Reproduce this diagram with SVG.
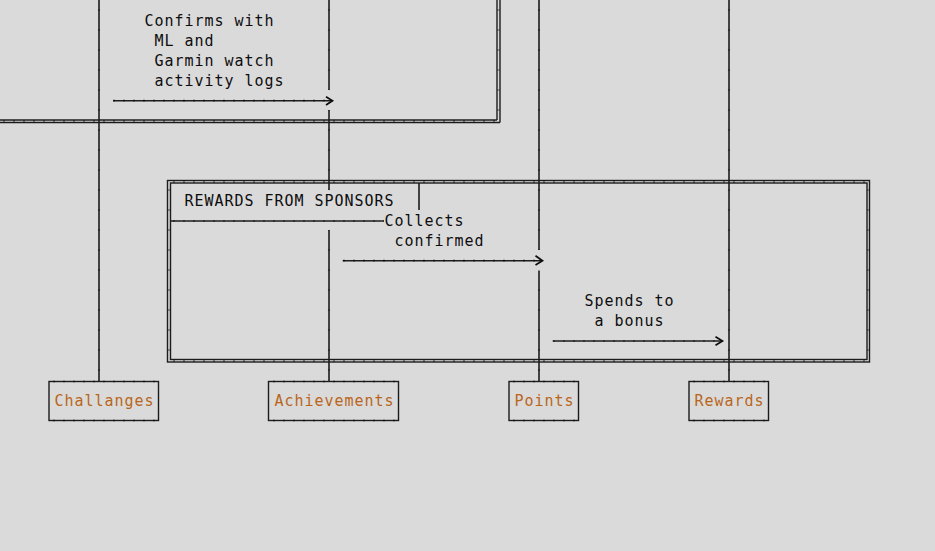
<svg xmlns="http://www.w3.org/2000/svg" width="935" height="551" viewBox="0 0 935 551">
<style>
.ln{stroke:#1c1c1c;stroke-width:1.6;fill:none}
.th{stroke:#1c1c1c;stroke-width:1.4;fill:none}
.tk{stroke:#000;stroke-width:2.2;fill:none;opacity:.6}
.hv{stroke-dasharray:1.2 8.8}
.vv{stroke-dasharray:1.2 18.8}
.txt{font-family:"DejaVu Sans Mono","Liberation Mono",monospace;font-size:15px;letter-spacing:0.97px;fill:#0d0d0d}
.pt{fill:#b9661a}
.chev{stroke:#0d0d0d;stroke-width:1.7;fill:none;stroke-linejoin:miter}
</style>
<rect width="935" height="551" fill="#dadada"/>

<g id="frame-top">
<line class="th" x1="0" y1="120" x2="497" y2="120"/>
<line class="th" x1="0" y1="122.5" x2="500" y2="122.5"/>
<line class="th" x1="497" y1="0" x2="497" y2="120"/>
<line class="th" x1="500" y1="0" x2="500" y2="122.5"/>
<line class="tk hv" x1="0" y1="121.2" x2="500" y2="121.2" stroke-dashoffset="6.6"/>
<line class="tk vv" x1="498.5" y1="0" x2="498.5" y2="121" stroke-dashoffset="10.6"/>
</g>

<g id="frame-rewards">
<rect class="th" x="167.5" y="180.5" width="702" height="181.5"/>
<rect class="th" x="170.5" y="183" width="696.5" height="176.5"/>
<line class="tk hv" x1="168" y1="181.8" x2="869" y2="181.8" stroke-dashoffset="4.6"/>
<line class="tk hv" x1="168" y1="360.8" x2="869" y2="360.8" stroke-dashoffset="4.6"/>
<line class="tk vv" x1="169" y1="182" x2="169" y2="361" stroke-dashoffset="12.6"/>
<line class="tk vv" x1="868.3" y1="182" x2="868.3" y2="361" stroke-dashoffset="12.6"/>
<line class="ln" x1="419" y1="183" x2="419" y2="210"/>
<line class="ln" x1="170.5" y1="221" x2="384" y2="221"/>
<line class="tk hv" x1="170.5" y1="221" x2="384" y2="221" stroke-dashoffset="7.1"/>
<text class="txt" x="184.5" y="206">REWARDS FROM SPONSORS</text>
</g>

<g id="connectors">
<g id="lifelines">
<line class="ln" x1="99" y1="0" x2="99" y2="381.5"/>
<line class="tk vv" x1="99" y1="0" x2="99" y2="381.5" stroke-dashoffset="10.6"/>
<line class="ln" x1="329" y1="0" x2="329" y2="90"/>
<line class="ln" x1="329" y1="110" x2="329" y2="190"/>
<line class="ln" x1="329" y1="230" x2="329" y2="381.5"/>
<line class="tk vv" x1="329" y1="0" x2="329" y2="90" stroke-dashoffset="10.6"/>
<line class="tk vv" x1="329" y1="110" x2="329" y2="190" stroke-dashoffset="0.6"/>
<line class="tk vv" x1="329" y1="230" x2="329" y2="381.5" stroke-dashoffset="0.6"/>
<line class="ln" x1="539" y1="0" x2="539" y2="250"/>
<line class="ln" x1="539" y1="270.5" x2="539" y2="381.5"/>
<line class="tk vv" x1="539" y1="0" x2="539" y2="250" stroke-dashoffset="10.6"/>
<line class="tk vv" x1="539" y1="270.5" x2="539" y2="381.5" stroke-dashoffset="1.1"/>
<line class="ln" x1="729" y1="0" x2="729" y2="381.5"/>
<line class="tk vv" x1="729" y1="0" x2="729" y2="381.5" stroke-dashoffset="10.6"/>
</g>
<g id="msg-confirms">
<line class="ln" x1="113" y1="100.7" x2="331" y2="100.7"/>
<line class="tk hv" x1="113" y1="100.7" x2="331" y2="100.7" stroke-dashoffset="9.6"/>
<path class="chev" d="M326,96.7 L332.5,100.7 L326,105"/>
<text class="txt" x="144.5" y="26">Confirms with</text>
<text class="txt" x="154.5" y="46">ML and</text>
<text class="txt" x="154.5" y="66">Garmin watch</text>
<text class="txt" x="154.5" y="86">activity logs</text>
</g>
<g id="msg-collects">
<line class="ln" x1="342.7" y1="260.7" x2="541" y2="260.7"/>
<line class="tk hv" x1="342.7" y1="260.7" x2="541" y2="260.7" stroke-dashoffset="9.3"/>
<path class="chev" d="M535.5,255.7 L542.5,260.7 L535.5,265"/>
<text class="txt" x="384.5" y="226">Collects</text>
<text class="txt" x="394.5" y="246">confirmed</text>
</g>
<g id="msg-spends">
<line class="ln" x1="552.7" y1="341" x2="721" y2="341"/>
<line class="tk hv" x1="552.7" y1="341" x2="721" y2="341" stroke-dashoffset="9.3"/>
<path class="chev" d="M715.5,336.7 L722.5,341 L715.5,345.3"/>
<text class="txt" x="584.5" y="306">Spends to</text>
<text class="txt" x="594.5" y="326">a bonus</text>
</g>
</g>

<g id="node-challanges">
<rect class="th" x="49" y="381.5" width="109.5" height="39"/>
<line class="tk hv" x1="49" y1="381.5" x2="158.5" y2="381.5" stroke-dashoffset="5.6"/>
<line class="tk hv" x1="49" y1="420.5" x2="158.5" y2="420.5" stroke-dashoffset="5.6"/>
<text class="txt pt" x="54.5" y="406">Challanges</text>
</g>
<g id="node-achievements">
<rect class="th" x="268.5" y="381.5" width="130" height="39"/>
<line class="tk hv" x1="268.5" y1="381.5" x2="398.5" y2="381.5" stroke-dashoffset="5.1"/>
<line class="tk hv" x1="268.5" y1="420.5" x2="398.5" y2="420.5" stroke-dashoffset="5.1"/>
<text class="txt pt" x="274.5" y="406">Achievements</text>
</g>
<g id="node-points">
<rect class="th" x="509" y="381.5" width="69.5" height="39"/>
<line class="tk hv" x1="509" y1="381.5" x2="578.5" y2="381.5" stroke-dashoffset="5.6"/>
<line class="tk hv" x1="509" y1="420.5" x2="578.5" y2="420.5" stroke-dashoffset="5.6"/>
<text class="txt pt" x="514.5" y="406">Points</text>
</g>
<g id="node-rewards">
<rect class="th" x="689" y="381.5" width="79.5" height="39"/>
<line class="tk hv" x1="689" y1="381.5" x2="768.5" y2="381.5" stroke-dashoffset="5.6"/>
<line class="tk hv" x1="689" y1="420.5" x2="768.5" y2="420.5" stroke-dashoffset="5.6"/>
<text class="txt pt" x="694.5" y="406">Rewards</text>
</g>
</svg>
